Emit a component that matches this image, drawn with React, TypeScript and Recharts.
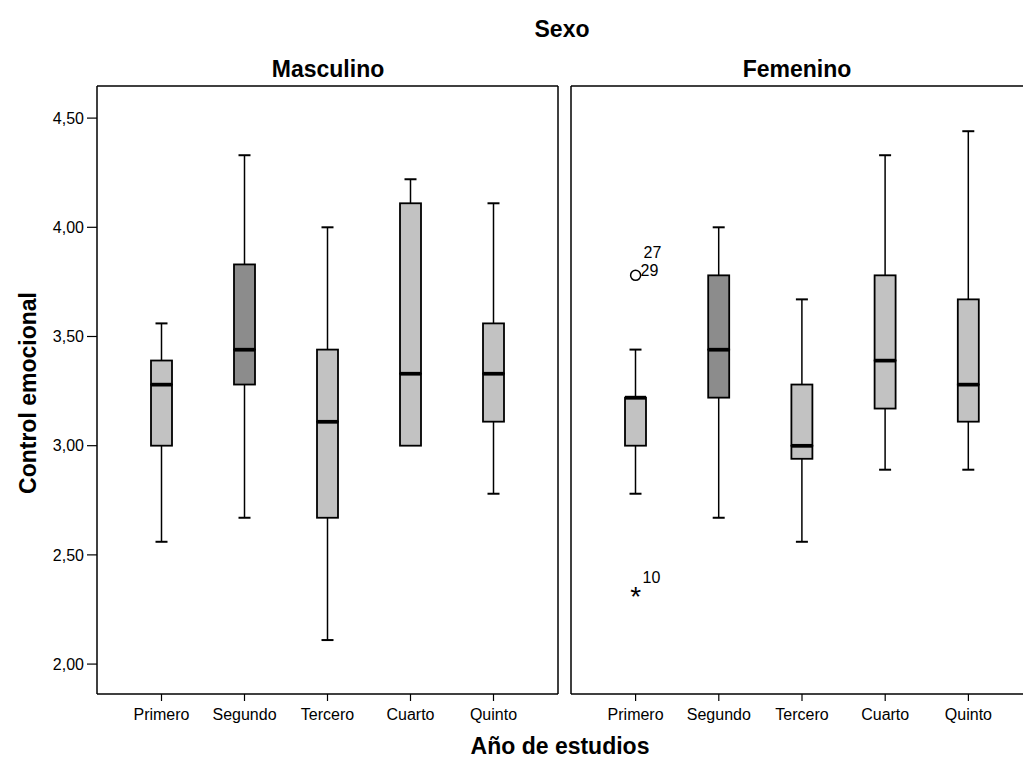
import React from "react";
import { ComposedChart, Bar, XAxis, YAxis, ReferenceDot } from "recharts";

// categories
const years = ["Primero", "Segundo", "Tercero", "Cuarto", "Quinto"];

// Masculino
const mascMin = [2.56, 2.67, 2.11, 3.0, 2.78];
const mascQ1 = [3.0, 3.28, 2.67, 3.0, 3.11];
const mascMed = [3.28, 3.44, 3.11, 3.33, 3.33];
const mascQ3 = [3.39, 3.83, 3.44, 4.11, 3.56];
const mascMax = [3.56, 4.33, 4.0, 4.22, 4.11];

// Femenino
const femMin = [2.78, 2.67, 2.56, 2.89, 2.89];
const femQ1 = [3.0, 3.22, 2.94, 3.17, 3.11];
const femMed = [3.22, 3.44, 3.0, 3.39, 3.28];
const femQ3 = [3.22, 3.78, 3.28, 3.78, 3.67];
const femMax = [3.44, 4.0, 3.67, 4.33, 4.44];

// outliers (Femenino)
const femOutliers = [
  { year: "Primero", value: 3.78, kind: "circle", labels: ["27", "29"] },
  { year: "Primero", value: 2.33, kind: "star", labels: ["10"] },
];

const yTicks = [2.0, 2.5, 3.0, 3.5, 4.0, 4.5];
const yDomain = [1.863, 4.647];

const FONT = "'Liberation Sans', Arial, sans-serif";
const LIGHT = "#c2c2c2";
const DARK = "#8c8c8c";
const CAP_W = 12;

function buildRows(min: number[], q1: number[], med: number[], q3: number[], max: number[]) {
  return years.map((year, i) => ({
    year,
    base: min[i],
    lowW: q1[i] - min[i],
    lowBox: med[i] - q1[i],
    upBox: q3[i] - med[i],
    upW: max[i] - q3[i],
  }));
}

const mascRows = buildRows(mascMin, mascQ1, mascMed, mascQ3, mascMax);
const femRows = buildRows(femMin, femQ1, femMed, femQ3, femMax);

const boxFill = (year: string) => (year === "Segundo" ? DARK : LIGHT);

const LowWhisker = (props: any) => {
  const { x, y, width, height } = props;
  if (!height || height < 0.5) return <g />;
  const cx = x + width / 2;
  return (
    <g>
      <line x1={cx} x2={cx} y1={y} y2={y + height} stroke="#000" strokeWidth={1.5} />
      <line x1={cx - CAP_W / 2} x2={cx + CAP_W / 2} y1={y + height} y2={y + height} stroke="#000" strokeWidth={2} />
    </g>
  );
};

const HighWhisker = (props: any) => {
  const { x, y, width, height } = props;
  if (!height || height < 0.5) return <g />;
  const cx = x + width / 2;
  return (
    <g>
      <line x1={cx} x2={cx} y1={y} y2={y + height} stroke="#000" strokeWidth={1.5} />
      <line x1={cx - CAP_W / 2} x2={cx + CAP_W / 2} y1={y} y2={y} stroke="#000" strokeWidth={2} />
    </g>
  );
};

const LowBox = (props: any) => {
  const { x, y, width, height, payload } = props;
  return (
    <g>
      <rect x={x} y={y} width={width} height={Math.max(height, 0)} fill={boxFill(payload.year)} stroke="#000" strokeWidth={1.8} />
      <line x1={x} x2={x + width} y1={y} y2={y} stroke="#000" strokeWidth={3.5} />
    </g>
  );
};

const UpBox = (props: any) => {
  const { x, y, width, height, payload } = props;
  return (
    <g>
      <rect x={x} y={y} width={width} height={Math.max(height, 0)} fill={boxFill(payload.year)} stroke="#000" strokeWidth={1.8} />
      <line x1={x} x2={x + width} y1={y + height} y2={y + height} stroke="#000" strokeWidth={3.5} />
    </g>
  );
};

const OutlierShape = (kind: string, labels: string[]) => (props: any) => {
  const { cx, cy } = props;
  if (kind === "circle") {
    return (
      <g>
        <circle cx={cx} cy={cy} r={5} fill="#fff" stroke="#000" strokeWidth={1.5} />
        <text x={cx + 5} y={cy + 1} fontFamily={FONT} fontSize={16} fill="#000">{labels[1]}</text>
        <text x={cx + 8} y={cy - 17} fontFamily={FONT} fontSize={16} fill="#000">{labels[0]}</text>
      </g>
    );
  }
  return (
    <g>
      <text x={cx} y={cy + 14} textAnchor="middle" fontFamily={FONT} fontSize={28} fill="#000">*</text>
      <text x={cx + 7} y={cy - 9} fontFamily={FONT} fontSize={16} fill="#000">{labels[0]}</text>
    </g>
  );
};

const fmt = (v: number) => v.toFixed(2).replace(".", ",");

type PanelProps = {
  rows: any[];
  left: number;
  width: number;
  showY: boolean;
  outliers?: any[];
};

const frameLine = { stroke: "#000", strokeWidth: 1.5 };

function Panel({ rows, left, width, showY, outliers = [] }: PanelProps) {
  return (
    <div style={{ position: "absolute", left, top: 0 }}>
      <ComposedChart
        width={width}
        height={765}
        data={rows}
        barSize={21}
        margin={{ top: 85, right: showY ? 11 : 2, left: showY ? 0 : 4, bottom: 0 }}
      >
        <XAxis
          dataKey="year"
          interval={0}
          height={71}
          padding={{ left: 23, right: 23 }}
          tickSize={7}
          tickMargin={8}
          axisLine={frameLine}
          tickLine={{ stroke: "#000", strokeWidth: 1.2 }}
          tick={{ fill: "#000", fontSize: 16, fontFamily: FONT }}
        />
        <XAxis
          xAxisId="top"
          orientation="top"
          dataKey="year"
          height={1}
          tick={false}
          tickLine={false}
          axisLine={frameLine}
        />
        <YAxis
          type="number"
          domain={yDomain}
          ticks={yTicks}
          allowDataOverflow
          width={showY ? 97 : 1}
          tick={showY ? { fill: "#000", fontSize: 16, fontFamily: FONT } : false}
          tickFormatter={fmt}
          tickSize={showY ? 10 : 0}
          tickMargin={3}
          tickLine={showY ? { stroke: "#000", strokeWidth: 1.2 } : false}
          axisLine={frameLine}
        />
        {showY && (
          <YAxis
            yAxisId="right"
            orientation="right"
            type="number"
            domain={yDomain}
            allowDataOverflow
            width={1}
            tick={false}
            tickLine={false}
            axisLine={frameLine}
          />
        )}
        <Bar dataKey="base" stackId="b" fill="none" isAnimationActive={false} />
        <Bar dataKey="lowW" stackId="b" shape={LowWhisker} isAnimationActive={false} />
        <Bar dataKey="lowBox" stackId="b" shape={LowBox} isAnimationActive={false} />
        <Bar dataKey="upBox" stackId="b" shape={UpBox} isAnimationActive={false} />
        <Bar dataKey="upW" stackId="b" shape={HighWhisker} isAnimationActive={false} />
        {outliers.map((o, i) => (
          <ReferenceDot
            key={i}
            x={o.year}
            y={o.value}
            r={4}
            ifOverflow="visible"
            shape={OutlierShape(o.kind, o.labels)}
          />
        ))}
      </ComposedChart>
    </div>
  );
}

export default function App() {
  return (
    <div
      style={{
        position: "absolute",
        left: 0,
        top: 0,
        width: 1023,
        height: 765,
        overflow: "hidden",
        background: "#fff",
      }}
    >
      <Panel rows={mascRows} left={0} width={570} showY />
      <Panel rows={femRows} left={566} width={469} showY={false} outliers={femOutliers} />
      <svg
        width={1023}
        height={765}
        style={{ position: "absolute", left: 0, top: 0, pointerEvents: "none" }}
        fontFamily={FONT}
        fontWeight="bold"
        fill="#000"
      >
        <text x={562} y={37} textAnchor="middle" fontSize={23}>Sexo</text>
        <text x={328} y={77} textAnchor="middle" fontSize={23}>Masculino</text>
        <text x={797} y={77} textAnchor="middle" fontSize={23}>Femenino</text>
        <text x={560} y={754} textAnchor="middle" fontSize={23}>Año de estudios</text>
        <text
          x={0}
          y={0}
          textAnchor="middle"
          fontSize={23}
          transform="translate(36, 393) rotate(-90)"
        >
          Control emocional
        </text>
      </svg>
    </div>
  );
}
